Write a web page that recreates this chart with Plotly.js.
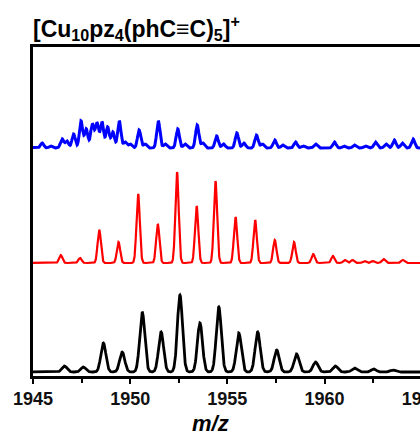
<!DOCTYPE html>
<html><head><meta charset="utf-8">
<script src="https://cdn.plot.ly/plotly-3.0.1.min.js"></script>
<style>html,body{margin:0;padding:0;overflow:hidden;background:#fff;width:420px;height:435px}#chart{width:500px;height:435px}</style>
</head><body><div id="chart"></div>
<script>
// ---- data (m/z centres, relative intensities) ----
const titleText = "[Cu<sub>10</sub>pz<sub>4</sub>(phC≡C)<sub>5</sub>]<sup>+</sup>";
const xTitleText = "m/z";
const tickValues = [1945, 1950, 1955, 1960, 1965];

// experimental (blue)
const blueCenters = [1945.47, 1945.9, 1946.5, 1946.75, 1947.09, 1947.47, 1947.74, 1948.05, 1948.29, 1948.55, 1948.84, 1949.11, 1949.44, 1949.74, 1950.0, 1950.46, 1950.77, 1951.45, 1951.8, 1952.45, 1952.82, 1953.45, 1953.74, 1954.45, 1954.8, 1955.49, 1955.85, 1956.5, 1956.8, 1957.44, 1957.85, 1958.51, 1958.9, 1959.54, 1960.51, 1961.0, 1961.54, 1962.1, 1962.62, 1963.16, 1963.59, 1964.0, 1964.56];
const blueHeights = [5, 2, 9, 7, 14, 27, 19, 24, 25, 26, 21, 16, 27, 6, 4, 18, 4, 27, 4, 19, 4, 23, 5, 12, 4, 15, 5, 13, 4, 8, 3, 6, 2, 4, 6, 2, 3, 2, 6, 4, 8, 5, 9];

// red
const redCenters = [1946.43, 1947.42, 1948.41, 1949.40, 1950.41, 1951.42, 1952.41, 1953.42, 1954.39, 1955.42, 1956.43, 1957.44, 1958.43, 1959.42, 1960.43, 1961.04, 1961.44, 1962.05, 1962.48, 1963.03, 1964.02];
const redHeights = [8, 5, 33, 21, 69, 39, 91, 57, 82, 46, 43, 23, 21, 9, 7, 3, 3, 2, 2, 4, 3];

// black
const blackCenters = [1946.62, 1947.59, 1948.62, 1949.59, 1950.62, 1951.59, 1952.56, 1953.59, 1954.56, 1955.59, 1956.56, 1957.54, 1958.56, 1959.54, 1960.56, 1961.54, 1962.53, 1963.51];
const blackHeights = [6, 5, 29, 20, 60, 40, 77, 49, 65, 39, 40, 22, 18, 10, 6, 4, 3, 2];

// vertical stacking offsets (a.u.)
const offsets = {blue: 228, red: 113, black: 4};

// ---- build line profiles from the peak lists ----
function profile(centers, heights, sigma, offset) {
  const xs = [], ys = [];
  for (let i = 0; i <= 2400; i++) {
    const x = 1944.5 + i * 0.01;
    let y = offset;
    for (let k = 0; k < centers.length; k++) {
      const d = x - centers[k];
      y += heights[k] * Math.exp(-d * d / (2 * sigma * sigma));
    }
    xs.push(x); ys.push(y);
  }
  return {x: xs, y: ys};
}

const pb = profile(blueCenters, blueHeights, 0.085, offsets.blue);
const pr = profile(redCenters, redHeights, 0.085, offsets.red);
const pk = profile(blackCenters, blackHeights, 0.13, offsets.black);

const FONT = "Liberation Sans, Arial, sans-serif";
const traces = [
  {x: pb.x, y: pb.y, type: 'scatter', mode: 'lines', line: {color: '#0000ff', width: 3}, hoverinfo: 'skip'},
  {x: pr.x, y: pr.y, type: 'scatter', mode: 'lines', line: {color: '#ff0000', width: 2.2}, hoverinfo: 'skip'},
  {x: pk.x, y: pk.y, type: 'scatter', mode: 'lines', line: {color: '#000000', width: 2.8}, hoverinfo: 'skip'}
];

const layout = {
  width: 500, height: 435,
  margin: {l: 32.5, r: 20, t: 47, b: 59, pad: 0},
  paper_bgcolor: '#fff', plot_bgcolor: '#fff',
  showlegend: false,
  xaxis: {range: [1945, 1968], tickmode: 'array', tickvals: tickValues, ticktext: tickValues.map(String),
          ticks: 'outside', ticklen: 5, tickwidth: 2, tickcolor: '#000',
          minor: {dtick: 2.5, tick0: 1945, ticks: 'outside', ticklen: 4, tickwidth: 2, tickcolor: '#000', showgrid: false},
          showline: true, linewidth: 2.6, linecolor: '#000', mirror: true,
          showgrid: false, zeroline: false,
          tickfont: {family: FONT, size: 18, color: '#111', weight: 'bold'}},
  yaxis: {range: [0, 329], showticklabels: false, ticks: '', showline: true, linewidth: 2.6, linecolor: '#000',
          mirror: true, showgrid: false, zeroline: false},
  annotations: [
    {text: titleText, xref: 'paper', yref: 'paper', x: (30 - 32.5) / 447.5, y: 1 + 1 / 329,
     xanchor: 'left', yanchor: 'bottom', showarrow: false,
     font: {family: FONT, size: 23, color: '#000', weight: 'bold'}},
    {text: xTitleText, xref: 'paper', yref: 'paper', x: (210 - 32.5) / 447.5, y: -47 / 329,
     xanchor: 'center', yanchor: 'middle', showarrow: false,
     font: {family: FONT, size: 22, color: '#000', weight: 'bold', style: 'italic'}}]
};

Plotly.newPlot('chart', traces, layout, {staticPlot: true, displayModeBar: false});
</script></body></html>
